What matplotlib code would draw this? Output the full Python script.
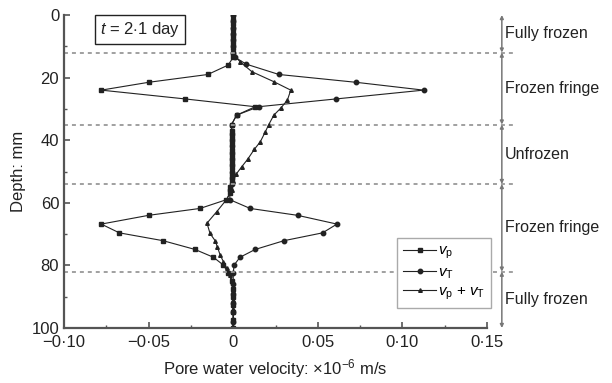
import matplotlib
matplotlib.use("Agg")
import matplotlib.pyplot as plt
from matplotlib.ticker import MultipleLocator, FuncFormatter

plt.rcParams['font.family'] = ['Liberation Sans', 'DejaVu Sans']
plt.rcParams['mathtext.fontset'] = 'custom'
plt.rcParams['mathtext.rm'] = 'Liberation Sans'
plt.rcParams['mathtext.it'] = 'Liberation Sans:italic'
plt.rcParams['mathtext.sf'] = 'Liberation Sans'

# v_p (squares)
depth_p = [0, 1.5, 3, 4.5, 6, 7.5, 9, 10.5, 12, 13.5, 16, 19, 21.5, 24, 26.8, 29.3, 32, 35,
           37, 39, 41, 43, 45, 47, 49, 51, 53, 55, 57, 59, 61.8, 64, 66.8, 69.6, 72.1, 74.9,
           77.4, 79.9, 82.5, 85, 87.5, 90, 92.5, 95, 97.5, 100]
vel_p = [0, 0, 0, 0, 0, 0, 0, 0, 0, 0, -0.003, -0.015, -0.050, -0.078, -0.0286, 0.013, 0.002, -0.001,
         -0.001, -0.001, -0.001, -0.001, -0.001, -0.001, -0.001, -0.001, -0.001, -0.002, -0.002, -0.004,
         -0.0196, -0.050, -0.078, -0.0673, -0.0415, -0.0226, -0.0117, -0.0058, -0.0028, -0.001,
         0, 0, 0, 0, 0, 0]

# v_T (circles)
depth_t = [0, 2, 4, 6, 8, 10, 12, 13.5, 15.7, 19, 21.5, 24, 26.8, 29.3, 32, 35,
           38, 40, 42, 44, 46, 48, 50, 52, 54, 56, 59, 61.8, 64, 66.8, 69.6, 72.1, 74.9,
           77.4, 79.9, 82.5, 86, 89, 92, 95, 98, 100]
vel_t = [0, 0, 0, 0, 0, 0, 0, 0.001, 0.0077, 0.027, 0.0726, 0.1125, 0.061, 0.015, 0.002, -0.001,
         -0.001, -0.001, -0.001, -0.001, -0.001, -0.001, -0.001, -0.001, -0.001, -0.002, -0.002,
         0.010, 0.038, 0.0613, 0.0528, 0.030, 0.013, 0.004, 0.0005, 0, 0, 0, 0, 0, 0, 0]

# v_p + v_T (triangles)
depth_s = [0, 1, 2.5, 5, 7.5, 10, 12.5, 14.9, 18.1, 21.3, 24, 27.2, 29.8, 32, 35, 37.3, 40.5,
           42.9, 46.1, 48.5, 50.8, 53, 56, 59, 62.8, 66.5, 69.8, 72.1, 74.2, 76.7, 78.8, 80.9,
           83, 85.5, 88, 91, 94, 97, 100]
vel_s = [0, 0, 0, 0, 0, 0, 0, 0.004, 0.011, 0.024, 0.034, 0.032, 0.028, 0.024, 0.021, 0.019, 0.016,
         0.0125, 0.0085, 0.005, 0.0018, 0, -0.001, -0.004, -0.0097, -0.0155, -0.0137, -0.0107,
         -0.0093, -0.0077, -0.0058, -0.0038, -0.0018, 0, 0, 0, 0, 0, 0]

boundaries = [12, 35, 54, 82]
zones = ['Fully frozen', 'Frozen fringe', 'Unfrozen', 'Frozen fringe', 'Fully frozen']


def dot_fmt(v, pos):
    if abs(v) < 1e-9:
        return '0'
    return ('%.2f' % v).replace('.', '\u00b7').replace('-', '\u2212')


fig = plt.figure(figsize=(6.12, 3.83), dpi=100)
ax = fig.add_axes([0.1046, 0.1436, 0.6912, 0.8172])

lc = '#222222'
ax.plot(vel_p, depth_p, color=lc, lw=0.8, marker='s', ms=2.6, label=r'$v_{\rm p}$')
ax.plot(vel_t, depth_t, color=lc, lw=0.8, marker='o', ms=3.2, label=r'$v_{\rm T}$')
ax.plot(vel_s, depth_s, color=lc, lw=0.8, marker='^', ms=2.6, label=r'$v_{\rm p}$ + $v_{\rm T}$')

ax.set_xlim(-0.10, 0.15)
ax.set_ylim(100, 0)
ax.xaxis.set_major_locator(MultipleLocator(0.05))
ax.xaxis.set_minor_locator(MultipleLocator(0.025))
ax.yaxis.set_major_locator(MultipleLocator(20))
ax.yaxis.set_minor_locator(MultipleLocator(10))
ax.xaxis.set_major_formatter(FuncFormatter(dot_fmt))

for s in ['top', 'right']:
    ax.spines[s].set_visible(False)
for s in ['left', 'bottom']:
    ax.spines[s].set_color('#555555')
    ax.spines[s].set_linewidth(1.6)
ax.tick_params(which='both', direction='in', color='#555555', labelsize=12, labelcolor='#222222')
ax.tick_params(which='major', length=4, width=1.2)
ax.tick_params(which='minor', length=2.5, width=1.0)
ax.tick_params(axis='x', pad=5)

ax.set_xlabel('Pore water velocity: \u00d710$^{-6}$ m/s', fontsize=12, color='#222222', labelpad=5)
ax.set_ylabel('Depth: mm', fontsize=12, color='#222222', labelpad=4)

# zone boundaries
tr = ax.get_yaxis_transform()
for b in boundaries:
    ax.plot([0, 1.066], [b, b], transform=tr, clip_on=False, color='#999999',
            lw=1.3, ls=(0, (2.2, 2.2)))

# bracket with arrows on the right
edges = [0] + boundaries + [100]
for i, name in enumerate(zones):
    a, b = edges[i], edges[i + 1]
    ax.annotate('', xy=(1.035, a), xytext=(1.035, b), xycoords=tr, textcoords=tr,
                arrowprops=dict(arrowstyle='<|-|>', mutation_scale=5, lw=1.1,
                                color='#777777', shrinkA=0, shrinkB=0))
    ax.text(1.043, (a + b) / 2, name, transform=tr, ha='left', va='center',
            fontsize=11.5, color='#222222', clip_on=False)

ax.text(0.18, 0.953, r'$t$ = 2$\cdot$1 day', transform=ax.transAxes, ha='center', va='center',
        fontsize=12, color='#222222',
        bbox=dict(boxstyle='square,pad=0.3', fc='white', ec='#222222', lw=1))

leg = ax.legend(loc='lower right', bbox_to_anchor=(1.01, 0.064), borderaxespad=0,
                fontsize=11, fancybox=False, handlelength=2.2, handletextpad=0.1,
                labelspacing=0.25, borderpad=0.4, framealpha=1)
leg.get_frame().set_edgecolor('#aaaaaa')
leg.get_frame().set_linewidth(1.0)

fig.savefig('out.png', dpi=100)
